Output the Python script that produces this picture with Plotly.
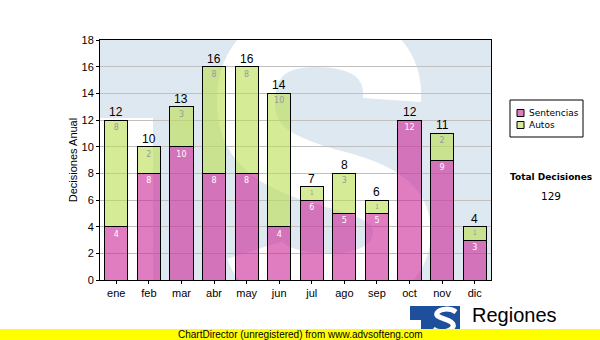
import plotly.graph_objects as go

# Monthly decisions
months = ["ene", "feb", "mar", "abr", "may", "jun", "jul", "ago", "sep", "oct", "nov", "dic"]
sentencias = [4, 8, 10, 8, 8, 4, 6, 5, 5, 12, 9, 3]
autos = [8, 2, 3, 8, 8, 10, 1, 3, 1, 0, 2, 1]
totals = [s + a for s, a in zip(sentencias, autos)]
y_ticks = list(range(0, 19, 2))

W, H = 600, 340
L, R, T, B = 100, 109, 40, 60
PW, PH = W - L - R, H - T - B
X0, X1 = -0.5, len(months) - 0.5
Y0, Y1 = 0, 18


def to_data(px, py):
    return (px - L) / PW * (X1 - X0) + X0, (T + PH - py) / PH * (Y1 - Y0) + Y0


def to_paper(px, py):
    return (px - L) / PW, (T + PH - py) / PH


def path(points, conv):
    out = []
    for item in points:
        if isinstance(item, str):
            out.append(item)
        else:
            x, y = conv(*item)
            out.append(f"{x:.4f},{y:.4f}")
    return " ".join(out)


fig = go.Figure()
x_idx = list(range(len(months)))

fig.add_trace(go.Bar(
    x=x_idx, y=sentencias, name="Sentencias",
    marker=dict(color="rgba(203,37,150,0.6)", line=dict(color="black", width=1)),
    text=[str(v) if v else "" for v in sentencias],
    textposition="inside", insidetextanchor="end", textangle=0,
    textfont=dict(family="DejaVu Sans", size=8, color="white"),
    hoverinfo="skip", showlegend=False,
))
fig.add_trace(go.Bar(
    x=x_idx, y=autos, name="Autos",
    marker=dict(color="rgba(185,222,80,0.6)", line=dict(color="black", width=1)),
    text=[str(v) if v else "" for v in autos],
    textposition="inside", insidetextanchor="end", textangle=0,
    textfont=dict(family="DejaVu Sans", size=8, color="#9a9a9a"),
    hoverinfo="skip", showlegend=False,
))

annotations = []
for i, t in enumerate(totals):
    annotations.append(dict(
        x=i, y=t, text=str(t), xref="x", yref="y", showarrow=False,
        xanchor="center", yanchor="bottom", yshift=-1,
        font=dict(family="Liberation Sans", size=12, color="black"),
    ))

shapes = []
# Watermark: pale logo behind the bars
shapes.append(dict(
    type="rect", xref="x", yref="y", layer="below",
    x0=to_data(L, 118)[0], y0=Y0, x1=to_data(153, 118)[0], y1=to_data(L, 118)[1],
    fillcolor="white", line=dict(width=0),
))
s_curve = [
    "M", (392, 100),
    "C", (395, 55), (360, 38), (315, 38),
    "C", (270, 38), (245, 60), (246, 105),
    "C", (247, 150), (285, 165), (330, 178),
    "C", (380, 190), (402, 205), (402, 232),
    "C", (402, 265), (372, 282), (330, 282),
    "C", (290, 282), (262, 272), (255, 250),
]
shapes.append(dict(
    type="path", xref="x", yref="y", layer="below",
    path=path(s_curve, to_data),
    line=dict(color="white", width=58), fillcolor="rgba(0,0,0,0)",
))

# Legend box
lx0, ly0 = to_paper(510, 100)
lx1, ly1 = to_paper(583, 137)
shapes.append(dict(type="rect", xref="paper", yref="paper", x0=lx0, y0=ly0, x1=lx1, y1=ly1,
                   fillcolor="white", line=dict(color="black", width=1)))
for (name, color, py) in [("Sentencias", "#e07cc0", 113), ("Autos", "#d5eb96", 125)]:
    sx0, sy0 = to_paper(517, py - 3.5)
    sx1, sy1 = to_paper(524, py + 3.5)
    shapes.append(dict(type="rect", xref="paper", yref="paper", x0=sx0, y0=sy0, x1=sx1, y1=sy1,
                       fillcolor=color, line=dict(color="black", width=1)))
    tx, ty = to_paper(527, py)
    annotations.append(dict(x=tx, y=ty, xref="paper", yref="paper", text=name, showarrow=False,
                            xanchor="left", yanchor="middle",
                            font=dict(family="DejaVu Sans", size=9, color="black")))

# Total
tx, ty = to_paper(551, 177)
annotations.append(dict(x=tx, y=ty, xref="paper", yref="paper", text="<b>Total Decisiones</b>",
                        showarrow=False, xanchor="center", yanchor="middle",
                        font=dict(family="DejaVu Sans", size=9, color="black")))
tx, ty = to_paper(551, 196)
annotations.append(dict(x=tx, y=ty, xref="paper", yref="paper", text=str(sum(totals)),
                        showarrow=False, xanchor="center", yanchor="middle",
                        font=dict(family="DejaVu Sans", size=10.5, color="black")))

# Logo at bottom right
bx0, by0 = to_paper(410, 306)
bx1, by1 = to_paper(460, 340)
shapes.append(dict(type="rect", xref="paper", yref="paper", x0=bx0, y0=by0, x1=bx1, y1=by1,
                   fillcolor="#1d4f9c", line=dict(width=0)))
cx0, cy0 = to_paper(410, 320)
cx1, cy1 = to_paper(421, 340)
shapes.append(dict(type="rect", xref="paper", yref="paper", x0=cx0, y0=cy0, x1=cx1, y1=cy1,
                   fillcolor="white", line=dict(width=0)))
logo_s = [
    "M", (456, 312),
    "C", (450, 308), (440, 308), (437, 313),
    "C", (434, 319), (456, 319), (453, 327),
    "C", (450, 333), (438, 333), (433, 329),
]
shapes.append(dict(type="path", xref="paper", yref="paper", path=path(logo_s, to_paper),
                   line=dict(color="white", width=5), fillcolor="rgba(0,0,0,0)"))
tx, ty = to_paper(470, 315)
annotations.append(dict(x=tx, y=ty, xref="paper", yref="paper", text="Regiones", showarrow=False,
                        xanchor="left", yanchor="middle",
                        font=dict(family="Liberation Sans", size=20, color="black")))

# Yellow footer strip
fx0, fy0 = to_paper(0, 329)
fx1, fy1 = to_paper(W, H)
shapes.append(dict(type="rect", xref="paper", yref="paper", x0=fx0, y0=fy0, x1=fx1, y1=fy1,
                   fillcolor="#ffff00", line=dict(width=0)))
tx, ty = to_paper(300, 334.5)
annotations.append(dict(x=tx, y=ty, xref="paper", yref="paper",
                        text="ChartDirector (unregistered) from www.advsofteng.com",
                        showarrow=False, xanchor="center", yanchor="middle",
                        font=dict(family="Liberation Sans", size=10, color="black")))

fig.update_layout(
    width=W, height=H, margin=dict(l=L, r=R, t=T, b=B),
    barmode="stack", bargap=0.29,
    paper_bgcolor="white", plot_bgcolor="#dee8f1",
    font=dict(family="Liberation Sans", size=11, color="black"),
    shapes=shapes, annotations=annotations,
    xaxis=dict(range=[X0, X1], tickvals=x_idx, ticktext=months, showgrid=False,
               showline=True, linecolor="black", linewidth=1, mirror=True,
               ticks="outside", ticklen=3, tickcolor="black", zeroline=False,
               tickfont=dict(size=11, color="black")),
    yaxis=dict(range=[Y0, Y1], tickvals=y_ticks, showgrid=True, gridcolor="#c0c0c0", gridwidth=1,
               showline=True, linecolor="black", linewidth=1, mirror=True,
               ticks="outside", ticklen=3, tickcolor="black", zeroline=False,
               tickfont=dict(size=11, color="black"),
               title=dict(text="Decisiones Anual", standoff=1,
                          font=dict(family="Liberation Sans", size=11, color="black"))),
)

fig.write_html("out.html")
